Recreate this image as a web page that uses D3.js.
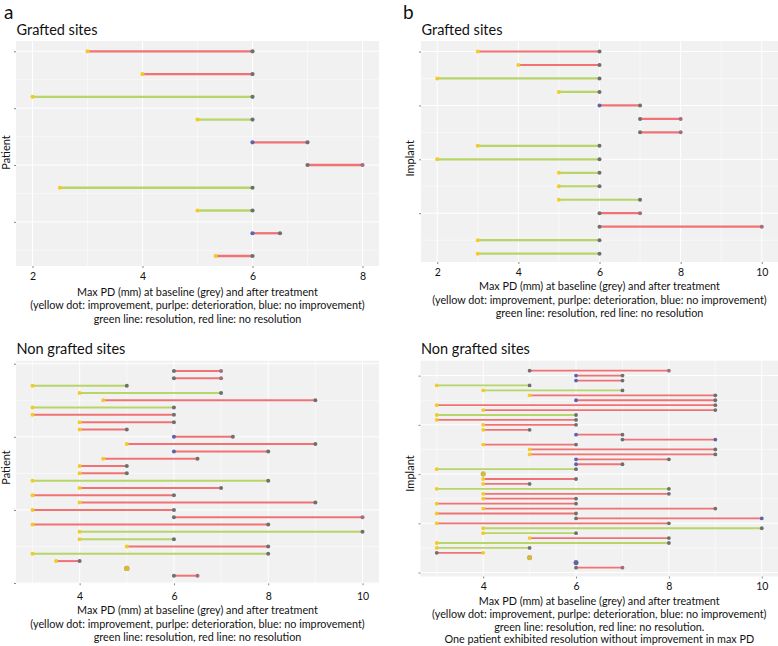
<!DOCTYPE html>
<html><head><meta charset="utf-8">
<script src="https://cdn.jsdelivr.net/npm/d3@7"></script>
<style>
body{margin:0;background:#fff}
svg{display:block}
text{font-family:Lato,"Open Sans",sans-serif;fill:#111}
</style>
</head><body>
<svg id="chart" width="778" height="646"></svg>
<script>
// ---------------- DATA ----------------
// status of the after-treatment dot: imp = improvement (yellow), none = no improvement (blue), det = deterioration (purple)
// resolved: 1 = resolution (green line), 0 = no resolution (red line)

// Panel a – Grafted sites (Patient)
const aGraftBaseline = [6, 6, 6, 6, 7, 7, 6, 6, 6.5, 6];
const aGraftAfter    = [3, 4, 2, 5, 6, 8, 2.5, 5, 6, 5.33];
const aGraftStatus   = ["imp","imp","imp","imp","none","det","imp","imp","none","imp"];
const aGraftResolved = [0, 0, 1, 1, 0, 0, 1, 1, 0, 0];

// Panel b – Grafted sites (Implant)
const bGraftBaseline = [6, 6, 6, 6, 7, 7, 7, 6, 6, 6, 6, 7, 6, 6, 6, 6];
const bGraftAfter    = [3, 4, 2, 5, 6, 8, 8, 3, 2, 5, 5, 5, 7, 10, 3, 3];
const bGraftStatus   = ["imp","imp","imp","imp","none","det","det","imp","imp","imp","imp","imp","det","det","imp","imp"];
const bGraftResolved = [0, 0, 1, 1, 0, 0, 0, 1, 1, 1, 1, 1, 0, 0, 1, 1];

// Panel a – Non grafted sites (Patient)
const aNonBaseline = [6, 6, 5, 7, 9, 6, 6, 6, 5, 7.25, 9, 8, 6.5, 5, 5, 8, 7, 6, 9, 6, 6, 8, 10, 6, 8, 8, 4, 5, 6];
const aNonAfter    = [7, 7, 3, 4, 4.5, 3, 3, 4, 4, 6, 5, 6, 4.5, 4, 4, 3, 4, 3, 4, 3, 10, 3, 4, 4, 5, 3, 3.5, 5, 6.5];
const aNonStatus   = ["det","det","imp","imp","imp","imp","imp","imp","imp","none","imp","none","imp","imp","imp","imp","imp","imp","imp","imp","det","imp","imp","imp","imp","imp","imp","imp","det"];
const aNonResolved = [0, 0, 1, 1, 0, 1, 0, 0, 0, 0, 0, 0, 0, 0, 0, 1, 0, 0, 0, 0, 0, 0, 1, 1, 0, 1, 0, 0, 0];

// Panel b – Non grafted sites (Implant)
const bNonBaseline = [5, 7, 7, 5, 7, 9, 9, 9, 9, 6, 6, 6, 5, 7, 7, 6, 9, 9, 8, 7, 6, 4, 6, 5, 8, 8, 6, 6, 9, 6, 6, 8, 10, 6, 8, 8, 5, 3, 5, 6, 6];
const bNonAfter    = [8, 6, 6, 3, 4, 5, 6, 3, 4, 3, 3, 4, 4, 6, 9, 4, 5, 5, 6, 6, 3, 4, 4, 4, 3, 4, 4, 3, 4, 3, 10, 3, 4, 4, 5, 3, 3, 4, 5, 6, 7];
const bNonStatus   = ["det","none","none","imp","imp","imp","none","imp","imp","imp","imp","imp","imp","none","none","imp","imp","imp","none","none","imp","imp","imp","imp","imp","imp","imp","imp","imp","imp","none","imp","imp","imp","imp","imp","imp","imp","imp","none","det"];
const bNonResolved = [0, 0, 0, 1, 1, 0, 0, 0, 0, 1, 0, 0, 0, 0, 0, 0, 0, 0, 0, 0, 1, 0, 0, 0, 1, 0, 0, 0, 0, 0, 0, 0, 1, 1, 0, 1, 1, 0, 0, 0, 0];

// Axis ticks
const xTicksGraftA = [2, 4, 6, 8];
const xTicksGraftB = [2, 4, 6, 8, 10];
const xTicksNon    = [4, 6, 8, 10];

// Texts
const panelLetters = ["a", "b"];
const titleGraft = "Grafted sites";
const titleNon = "Non grafted sites";
const yLabelA = "Patient";
const yLabelB = "Implant";
const captionLines = [
  "Max PD (mm) at baseline (grey) and after treatment",
  "(yellow dot: improvement, purlpe: deterioration, blue: no improvement)",
  "green line: resolution, red line: no resolution"
];
const captionLinesBNon = [
  "Max PD (mm) at baseline (grey) and after treatment",
  "(yellow dot: improvement, purlpe: deterioration, blue: no improvement)",
  "green line: resolution, red line: no resolution.",
  "One patient exhibited resolution without improvement in max PD"
];

// ---------------- STYLE ----------------
const C = {
  bg: "#f1f1f1", grid: "#ffffff",
  base: "#6f6f6f", imp: "#f2cb25", none: "#5a63ad", det: "#9c6f82",
  red: "#f07275", green: "#b7d569"
};

const svg = d3.select("#chart");

svg.append("text").attr("x", 4).attr("y", 18.5).attr("font-size", 19).text(panelLetters[0]);
svg.append("text").attr("x", 403).attr("y", 18.5).attr("font-size", 19).text(panelLetters[1]);

function drawPanel(cfg) {
  const g = svg.append("g");
  const x = d3.scaleLinear().domain(cfg.xDomain).range([cfg.x0, cfg.x1]);
  const y = d3.scaleLinear().domain(cfg.yDomain).range([cfg.y0, cfg.y1]);

  g.append("rect").attr("x", cfg.x0).attr("y", cfg.y0)
    .attr("width", cfg.x1 - cfg.x0).attr("height", cfg.y1 - cfg.y0).attr("fill", C.bg);

  const mid = arr => arr.slice(1).map((v, i) => (v + arr[i]) / 2);
  const xStep = cfg.xTicks[1] - cfg.xTicks[0];
  const yStep = cfg.yTicks[1] - cfg.yTicks[0];
  const xMinor = mid(cfg.xTicks).concat([cfg.xTicks[0] - xStep / 2, cfg.xTicks[cfg.xTicks.length - 1] + xStep / 2])
                  .filter(v => v > cfg.xDomain[0] && v < cfg.xDomain[1]);
  const yMinor = mid(cfg.yTicks).concat([cfg.yTicks[0] - yStep / 2, cfg.yTicks[cfg.yTicks.length - 1] + yStep / 2])
                  .filter(v => v > cfg.yDomain[0] && v < cfg.yDomain[1]);

  g.selectAll(".xmin").data(xMinor).enter().append("line")
    .attr("x1", d => x(d)).attr("x2", d => x(d)).attr("y1", cfg.y0).attr("y2", cfg.y1)
    .attr("stroke", C.grid).attr("stroke-width", 0.5);
  g.selectAll(".ymin").data(yMinor).enter().append("line")
    .attr("y1", d => y(d)).attr("y2", d => y(d)).attr("x1", cfg.x0).attr("x2", cfg.x1)
    .attr("stroke", C.grid).attr("stroke-width", 0.5);
  g.selectAll(".xmaj").data(cfg.xTicks).enter().append("line")
    .attr("x1", d => x(d)).attr("x2", d => x(d)).attr("y1", cfg.y0).attr("y2", cfg.y1)
    .attr("stroke", C.grid).attr("stroke-width", 1);
  g.selectAll(".ymaj").data(cfg.yTicks).enter().append("line")
    .attr("y1", d => y(d)).attr("y2", d => y(d)).attr("x1", cfg.x0).attr("x2", cfg.x1)
    .attr("stroke", C.grid).attr("stroke-width", 1);

  // axes
  const xa = g.append("g").attr("transform", `translate(0,${cfg.y1})`)
    .call(d3.axisBottom(x).tickValues(cfg.xTicks).tickSize(2).tickPadding(cfg.tickPad).tickFormat(d3.format("d")));
  xa.select(".domain").remove();
  xa.selectAll("line").attr("stroke", "#888");
  xa.selectAll("text").attr("font-size", 10.5).attr("font-family", "Lato").attr("fill", "#111");

  const ya = g.append("g").attr("transform", `translate(${cfg.x0},0)`)
    .call(d3.axisLeft(y).tickValues(cfg.yTicks).tickSize(2).tickFormat(""));
  ya.select(".domain").remove();
  ya.selectAll("line").attr("stroke", "#888");

  // rows
  const rows = cfg.baseline.map((b, i) => ({
    row: i + 1, base: b, after: cfg.after[i], status: cfg.status[i], res: cfg.resolved[i]
  }));

  g.selectAll(".seg").data(rows.filter(d => d.base !== d.after)).enter().append("line")
    .attr("x1", d => x(d.after)).attr("x2", d => x(d.base))
    .attr("y1", d => y(d.row)).attr("y2", d => y(d.row))
    .attr("stroke", d => d.res ? C.green : C.red)
    .attr("stroke-width", cfg.lw);

  g.selectAll(".bdot").data(rows).enter().append("circle")
    .attr("cx", d => x(d.base)).attr("cy", d => y(d.row))
    .attr("r", d => d.base === d.after ? cfg.r * 1.3 : cfg.r)
    .attr("fill", C.base);

  g.selectAll(".adot").data(rows).enter().append("circle")
    .attr("cx", d => x(d.after)).attr("cy", d => y(d.row))
    .attr("r", d => d.base === d.after ? cfg.r * 1.3 : cfg.r)
    .attr("fill", d => C[d.status])
    .attr("fill-opacity", d => d.base === d.after ? 0.82 : 1);

  // titles
  g.append("text").attr("x", cfg.x0 + 0.5).attr("y", cfg.titleY).attr("font-size", 14.5).text(cfg.title);
  g.append("text")
    .attr("transform", `translate(${cfg.yLabX},${cfg.yLabY}) rotate(-90)`)
    .attr("text-anchor", "middle").attr("font-size", 11).text(cfg.yLabel);

  const cx = (cfg.x0 + cfg.x1) / 2;
  cfg.caption.forEach((t, i) => {
    g.append("text").attr("x", cx).attr("y", cfg.capY[i])
      .attr("text-anchor", "middle").attr("font-size", 10.8).text(t);
  });
}

drawPanel({
  x0: 16, x1: 379, y0: 41, y1: 266, xDomain: [1.7, 8.3], yDomain: [0.547, 10.44],
  xTicks: xTicksGraftA, yTicks: [1, 3.5, 6, 8.5], tickPad: 5,
  baseline: aGraftBaseline, after: aGraftAfter, status: aGraftStatus, resolved: aGraftResolved,
  r: 2.1, lw: 2.3, title: titleGraft, titleY: 34.5, yLabel: yLabelA, yLabX: 9.5, yLabY: 152.5,
  caption: captionLines, capY: [295.5, 309, 322.5]
});
drawPanel({
  x0: 421, x1: 778, y0: 41, y1: 262, xDomain: [1.6, 10.4], yDomain: [0.22, 16.62],
  xTicks: xTicksGraftB, yTicks: [1, 5, 9, 13], tickPad: 5,
  baseline: bGraftBaseline, after: bGraftAfter, status: bGraftStatus, resolved: bGraftResolved,
  r: 2, lw: 2.2, title: titleGraft, titleY: 34.5, yLabel: yLabelB, yLabX: 414, yLabY: 158.3,
  caption: captionLines, capY: [290, 303.5, 317]
});
drawPanel({
  x0: 16, x1: 379, y0: 360.7, y1: 583.3, xDomain: [2.65, 10.35], yDomain: [-0.41, 30.04],
  xTicks: xTicksNon, yTicks: [0, 10, 20, 30], tickPad: 7,
  baseline: aNonBaseline, after: aNonAfter, status: aNonStatus, resolved: aNonResolved,
  r: 2, lw: 2, title: titleNon, titleY: 354, yLabel: yLabelA, yLabX: 9.5, yLabY: 467.5,
  caption: captionLines, capY: [613.5, 627.5, 641]
});
drawPanel({
  x0: 420.5, x1: 778, y0: 360.7, y1: 576.5, xDomain: [2.65, 10.35], yDomain: [-1.03, 42.8],
  xTicks: xTicksNon, yTicks: [2, 12, 22, 32, 42], tickPad: 4.5,
  baseline: bNonBaseline, after: bNonAfter, status: bNonStatus, resolved: bNonResolved,
  r: 1.9, lw: 1.8, title: titleNon, titleY: 354, yLabel: yLabelB, yLabX: 414, yLabY: 473.5,
  caption: captionLinesBNon, capY: [604.5, 617.5, 630.5, 643.2]
});
</script>
</body></html>
